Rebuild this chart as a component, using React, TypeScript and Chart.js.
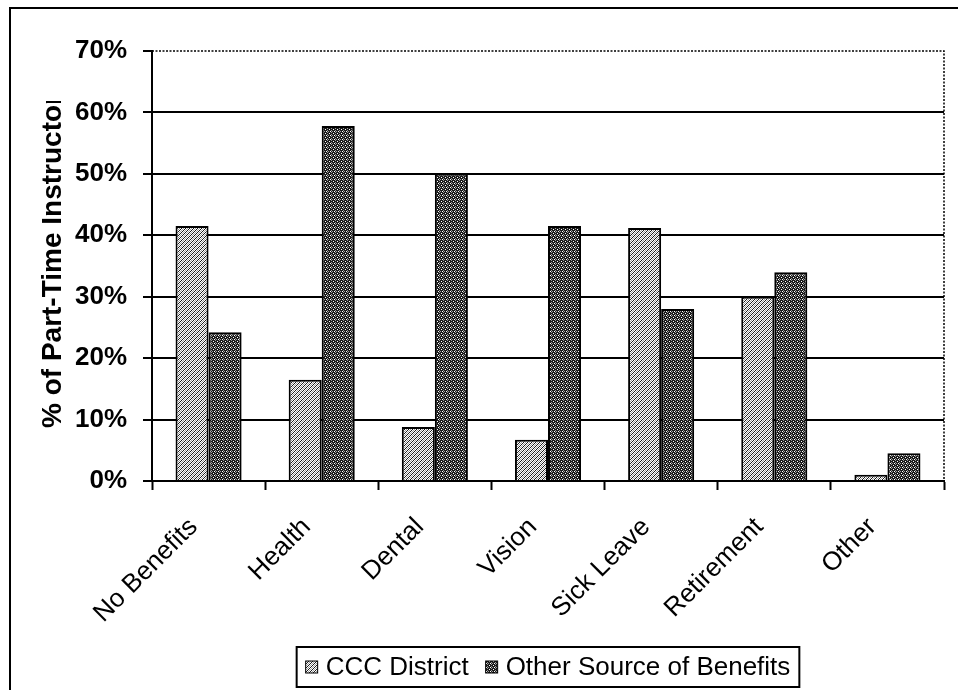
import React, { useEffect, useRef } from "react";
import { Chart, registerables } from "chart.js";

Chart.register(...registerables);

// Benefit categories and shares of part-time instructors (%)
const categories = ["No Benefits", "Health", "Dental", "Vision", "Sick Leave", "Retirement", "Other"];
const cccDistrict = [41.5, 16.5, 8.8, 6.7, 41.2, 30.0, 1.0];
const otherSource = [24.2, 57.8, 50.0, 41.5, 28.0, 34.0, 4.5];
const seriesNames = ["CCC District", "Other Source of Benefits"];
const yMin = 0;
const yMax = 70;
const yStep = 10;
const yTitle = "% of Part-Time Instructors";

const FONT = "Arial, 'Liberation Sans', Helvetica, sans-serif";

// Small dithered tiles that give the bars their printed grey texture
function makePattern(colors: string[][]): CanvasPattern | string {
  const size = colors.length;
  const c = document.createElement("canvas");
  c.width = size;
  c.height = size;
  const g = c.getContext("2d");
  if (!g) return "#888";
  for (let y = 0; y < size; y++) {
    for (let x = 0; x < size; x++) {
      g.fillStyle = colors[y][x];
      g.fillRect(x, y, 1, 1);
    }
  }
  const ctx = document.createElement("canvas").getContext("2d");
  return (ctx && ctx.createPattern(c, "repeat")) || "#888";
}

const W = "#ffffff";
const K = "#1a1a1a";
const G = "#9a9a9a";

export default function App() {
  const canvasRef = useRef<HTMLCanvasElement | null>(null);

  useEffect(() => {
    const canvas = canvasRef.current;
    if (!canvas) return;

    const lightFill = makePattern([
      [W, K, W, G],
      [K, W, G, W],
      [W, G, W, K],
      [G, W, K, W],
    ]);
    const darkFill = makePattern([
      [K, K, K, G],
      [K, W, K, K],
      [K, K, K, G],
      [G, K, W, K],
    ]);
    const fills = [lightFill, darkFill];

    const decorations = {
      id: "decorations",
      afterDraw(chart: any) {
        const { ctx, chartArea } = chart;
        const { left, right, top, bottom } = chartArea;
        const xScale = chart.scales.x;
        ctx.save();

        // outer chart frame (top and left edges)
        ctx.strokeStyle = "#000";
        ctx.lineWidth = 2;
        ctx.beginPath();
        ctx.moveTo(10, 690);
        ctx.lineTo(10, 8);
        ctx.lineTo(958, 8);
        ctx.stroke();

        // dotted plot-area border on top and right
        ctx.lineWidth = 1.5;
        ctx.setLineDash([2, 1.5]);
        ctx.beginPath();
        ctx.moveTo(left, top);
        ctx.lineTo(right, top);
        ctx.lineTo(right, bottom);
        ctx.stroke();
        ctx.setLineDash([]);

        // category labels, rotated 45 degrees and ending just left of each category centre
        ctx.fillStyle = "#000";
        ctx.font = `26px ${FONT}`;
        ctx.textAlign = "right";
        ctx.textBaseline = "alphabetic";
        categories.forEach((label, i) => {
          const cx = xScale.getPixelForValue(i);
          ctx.save();
          ctx.translate(cx - 10, bottom + 47);
          ctx.rotate(-Math.PI / 4);
          ctx.fillText(label, 0, 0);
          ctx.restore();
        });

        // rotated y-axis title, clipped at its upper end
        ctx.save();
        ctx.beginPath();
        ctx.rect(0, 101, 140, 600);
        ctx.clip();
        ctx.translate(53, 428);
        ctx.rotate(-Math.PI / 2);
        ctx.fillStyle = "#000";
        ctx.font = `bold 28px ${FONT}`;
        ctx.textAlign = "left";
        ctx.textBaseline = "middle";
        ctx.fillText(yTitle, 0, 0);
        ctx.restore();

        // legend box
        ctx.font = `26px ${FONT}`;
        const sw = 12;
        const gapSwatch = 8;
        const gapItem = 17;
        const padX = 9;
        const widths = seriesNames.map((n) => ctx.measureText(n).width);
        const inner = widths.reduce((a, w) => a + sw + gapSwatch + w, 0) + gapItem * (seriesNames.length - 1);
        const boxW = inner + padX * 2;
        const boxH = 40;
        const boxX = (left + right) / 2 - boxW / 2;
        const boxY = 647;
        ctx.fillStyle = "#fff";
        ctx.fillRect(boxX, boxY, boxW, boxH);
        ctx.strokeStyle = "#000";
        ctx.lineWidth = 2;
        ctx.strokeRect(boxX, boxY, boxW, boxH);
        let x = boxX + padX;
        const cy = boxY + boxH / 2;
        seriesNames.forEach((name, i) => {
          ctx.fillStyle = fills[i] as any;
          ctx.fillRect(x, cy - sw / 2, sw, sw);
          ctx.lineWidth = 1;
          ctx.strokeRect(x, cy - sw / 2, sw, sw);
          x += sw + gapSwatch;
          ctx.fillStyle = "#000";
          ctx.textAlign = "left";
          ctx.textBaseline = "middle";
          ctx.fillText(name, x, cy + 1);
          x += widths[i] + gapItem;
        });

        ctx.restore();
      },
    };

    const chart = new Chart(canvas, {
      type: "bar",
      data: {
        labels: categories,
        datasets: [
          {
            label: seriesNames[0],
            data: cccDistrict,
            backgroundColor: lightFill as any,
            borderColor: "#000",
            borderWidth: 2,
            categoryPercentage: 0.584,
            barPercentage: 1.0,
          },
          {
            label: seriesNames[1],
            data: otherSource,
            backgroundColor: darkFill as any,
            borderColor: "#000",
            borderWidth: 2,
            categoryPercentage: 0.584,
            barPercentage: 1.0,
          },
        ],
      },
      options: {
        responsive: false,
        animation: false,
        layout: { padding: { top: 51, right: 14, left: 0, bottom: 0 } },
        plugins: {
          legend: { display: false },
          tooltip: { enabled: false },
          title: { display: false },
        },
        scales: {
          x: {
            grid: {
              offset: true,
              drawOnChartArea: false,
              drawTicks: true,
              tickLength: 9,
              tickColor: "#000",
              tickWidth: 2,
            },
            border: { display: true, color: "#000", width: 2 },
            ticks: { display: false, autoSkip: false },
            afterFit(scale: any) {
              scale.height = 209;
            },
          },
          y: {
            min: yMin,
            max: yMax,
            ticks: {
              stepSize: yStep,
              color: "#000",
              font: { family: FONT, size: 26, weight: "bold" },
              padding: 16,
              callback: (v: any) => `${v}%`,
            },
            grid: {
              color: (c: any) => (c.tick && c.tick.value === yMax ? "rgba(0,0,0,0)" : "#000"),
              lineWidth: 2,
              tickLength: 9,
              tickColor: "#000",
              tickWidth: 2,
            },
            border: { display: true, color: "#000", width: 2 },
            afterFit(scale: any) {
              scale.width = 152;
            },
          },
        },
      },
      plugins: [decorations],
    });

    return () => chart.destroy();
  }, []);

  return (
    <div style={{ position: "absolute", left: 0, top: 0, width: 958, height: 690, background: "#fff" }}>
      <canvas ref={canvasRef} width={958} height={690} style={{ display: "block" }} />
    </div>
  );
}
